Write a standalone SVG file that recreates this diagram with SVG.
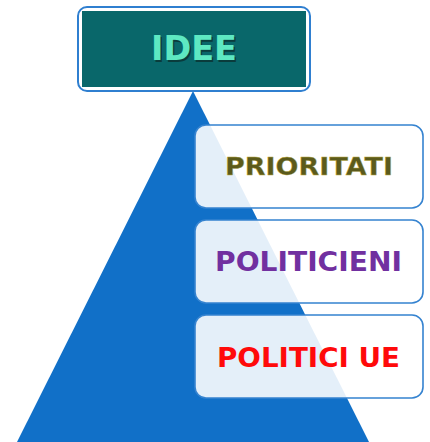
<svg xmlns="http://www.w3.org/2000/svg" width="430" height="442" viewBox="0 0 430 442">
<style>
.lbl{font-family:"DejaVu Sans","Liberation Sans",sans-serif;font-weight:bold;text-anchor:middle}
.box{fill:#ffffff;fill-opacity:0.89;stroke:#3583d0;stroke-width:1.6}
</style>
<rect width="430" height="442" fill="#ffffff"/>
<g id="pyramid">
<polygon points="193,91 17,442 369,442" fill="#1170c8"/>
</g>
<g id="idee">
<rect x="78" y="7" width="232" height="84" rx="9" fill="#ffffff" stroke="#2f7fd0" stroke-width="2"/>
<rect x="82" y="11" width="224" height="76" fill="#09676a"/>
<text class="lbl" x="195.5" y="61.5" font-size="34" fill="#0a3c3c" textLength="86" lengthAdjust="spacingAndGlyphs">IDEE</text>
<text class="lbl" x="194" y="60" font-size="34" fill="#5ee8c2" textLength="86" lengthAdjust="spacingAndGlyphs">IDEE</text>
</g>
<g id="prioritati">
<rect class="box" x="195" y="125" width="228" height="83" rx="11"/>
<text class="lbl" x="309" y="175" font-size="25" fill="#5b5a1c" stroke="#b9a93a" stroke-width="0.4" textLength="168" lengthAdjust="spacingAndGlyphs">PRIORITATI</text>
</g>
<g id="politicieni">
<rect class="box" x="195" y="220" width="228" height="83" rx="11"/>
<text class="lbl" x="308.5" y="270.5" font-size="26" fill="#7130a0" textLength="187" lengthAdjust="spacingAndGlyphs">POLITICIENI</text>
</g>
<g id="politici-ue">
<rect class="box" x="195" y="315" width="228" height="83" rx="11"/>
<text class="lbl" x="308.5" y="366.5" font-size="27" fill="#ff0a0a" textLength="183" lengthAdjust="spacingAndGlyphs">POLITICI UE</text>
</g>
<g id="connectors"></g>
</svg>
